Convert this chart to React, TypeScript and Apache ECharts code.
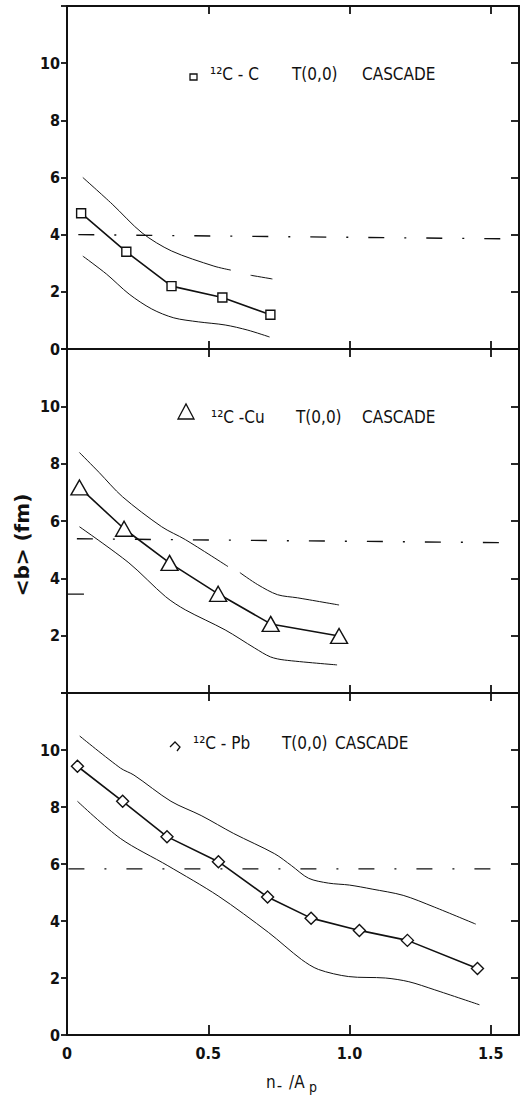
import React, { useEffect, useRef } from "react";
import * as echarts from "echarts";

// ---------- data ----------
// x tick labels (n-/Ap) and y range (<b> in fm)
const xTicks = [0, 0.5, 1.0, 1.5];
const yTicks = [0, 2, 4, 6, 8, 10];

// Panel 1: 12C-C
const ccPoints: [number, number][] = [
  [0.05, 4.75], [0.21, 3.4], [0.37, 2.2], [0.55, 1.8], [0.72, 1.2],
];
const ccUpper: [number, number | null][] = [
  [0.056, 6.0], [0.16, 5.07], [0.266, 4.06], [0.37, 3.43], [0.52, 2.9], [0.58, 2.76],
  [0.615, null], [0.65, 2.58], [0.727, 2.45],
];
const ccLower: [number, number][] = [
  [0.056, 3.25], [0.14, 2.62], [0.22, 1.92], [0.3, 1.4], [0.378, 1.09],
  [0.465, 0.95], [0.56, 0.84], [0.64, 0.66], [0.717, 0.42],
];
const ccRef: [number, number][] = [[0.04, 4.0], [1.6, 3.85]];

// Panel 2: 12C-Cu
const cuPoints: [number, number][] = [
  [0.044, 7.17], [0.202, 5.73], [0.363, 4.54], [0.535, 3.46], [0.721, 2.41], [0.963, 1.99],
];
const cuUpper: [number, number | null][] = [
  [0.044, 8.39], [0.114, 7.69], [0.196, 6.85], [0.335, 5.8], [0.419, 5.35], [0.57, 4.41],
  [0.59, null], [0.612, 4.2], [0.675, 3.78], [0.745, 3.43], [0.816, 3.32], [0.963, 3.07],
];
const cuLower: [number, number][] = [
  [0.044, 5.8], [0.219, 4.54], [0.349, 3.36], [0.419, 2.9], [0.56, 2.2],
  [0.664, 1.57], [0.72, 1.26], [0.77, 1.15], [0.956, 0.98],
];
const cuRef: [number, number][] = [[0.035, 5.38], [1.6, 5.24]];
const cuStray: [number, number][] = [[0.0, 3.45], [0.06, 3.45]];

// Panel 3: 12C-Pb
const pbPoints: [number, number][] = [
  [0.037, 9.43], [0.197, 8.2], [0.354, 6.96], [0.536, 6.08], [0.71, 4.84],
  [0.864, 4.1], [1.035, 3.67], [1.205, 3.32], [1.453, 2.33],
];
const pbUpper: [number, number][] = [
  [0.045, 10.49], [0.19, 9.36], [0.237, 9.12], [0.368, 8.2], [0.475, 7.7], [0.59, 7.07],
  [0.735, 6.36], [0.795, 5.94], [0.855, 5.5], [0.925, 5.33], [1.0, 5.26], [1.08, 5.12],
  [1.19, 4.9], [1.3, 4.49], [1.447, 3.89],
];
const pbLower: [number, number][] = [
  [0.037, 8.2], [0.19, 6.89], [0.357, 5.94], [0.535, 4.88], [0.713, 3.6], [0.83, 2.65],
  [0.89, 2.3], [0.997, 2.05], [1.127, 2.0], [1.21, 1.87], [1.3, 1.59], [1.46, 1.06],
];
const pbRef: [number, number][] = [[0.005, 5.83], [1.57, 5.83]];

const INK = "#111";
const FONT = "'DejaVu Sans Condensed', 'DejaVu Sans', sans-serif";

export default function App() {
  const ref = useRef<HTMLDivElement>(null);

  useEffect(() => {
    document.body.style.margin = "0";
    const chart = echarts.init(ref.current!, undefined, { renderer: "svg" });

    const grids = [
      { left: 67, right: 3, top: 6, height: 343 },
      { left: 67, right: 3, top: 349, height: 344 },
      { left: 67, right: 3, top: 693, height: 342 },
    ];

    const xAxes: any[] = [];
    const yAxes: any[] = [];
    grids.forEach((_, i) => {
      const base = {
        gridIndex: i,
        type: "value",
        min: 0,
        max: 1.6,
        interval: 0.5,
        splitLine: { show: false },
        axisLine: { show: true, onZero: false, lineStyle: { color: INK, width: 2 } },
      };
      xAxes.push({
        ...base,
        position: "bottom",
        axisTick: { show: true, inside: true, length: i === 2 ? 10 : 8, lineStyle: { color: INK, width: 1.8 } },
        axisLabel: {
          show: i === 2,
          margin: 10,
          color: INK,
          fontFamily: FONT,
          fontSize: 16,
          fontWeight: "bold",
          formatter: (v: number) => {
            const hit = xTicks.find((t) => Math.abs(t - v) < 1e-6);
            if (hit === undefined) return "";
            return hit === 0 ? "0" : hit.toFixed(1);
          },
        },
      });
      xAxes.push({
        ...base,
        position: "top",
        axisTick: { show: true, inside: true, length: 8, lineStyle: { color: INK, width: 1.8 } },
        axisLabel: { show: false },
      });
      const ybase = {
        gridIndex: i,
        type: "value",
        min: 0,
        max: 12,
        interval: 2,
        splitLine: { show: false },
        axisLine: { show: true, onZero: false, lineStyle: { color: INK, width: 2 } },
      };
      yAxes.push({
        ...ybase,
        position: "left",
        axisTick: { show: true, inside: false, length: 6, lineStyle: { color: INK, width: 1.8 } },
        axisLabel: {
          show: true,
          margin: 7,
          color: INK,
          fontFamily: FONT,
          fontSize: 16,
          fontWeight: "bold",
          formatter: (v: number) => {
            if (!yTicks.includes(v)) return "";
            if (i === 1 && v === 0) return "";
            return String(v);
          },
        },
      });
      yAxes.push({
        ...ybase,
        position: "right",
        axisTick: { show: true, inside: true, length: 8, lineStyle: { color: INK, width: 1.8 } },
        axisLabel: { show: false },
      });
    });

    const band = (i: number, data: any[]) => ({
      type: "line",
      xAxisIndex: 2 * i,
      yAxisIndex: 2 * i,
      data,
      smooth: 0.3,
      symbol: "none",
      connectNulls: false,
      lineStyle: { color: INK, width: 1 },
      silent: true,
      z: 2,
    });
    const refLine = (i: number, data: any[]) => ({
      type: "line",
      xAxisIndex: 2 * i,
      yAxisIndex: 2 * i,
      data,
      symbol: "none",
      lineStyle: { color: INK, width: 1.4, type: [16, 20, 2, 20] },
      silent: true,
      z: 1,
    });
    const main = (i: number, data: any[], symbol: string, size: any) => ({
      type: "line",
      xAxisIndex: 2 * i,
      yAxisIndex: 2 * i,
      data,
      symbol,
      symbolSize: size,
      showAllSymbol: true,
      lineStyle: { color: INK, width: 1.6 },
      itemStyle: { color: "#fff", borderColor: INK, borderWidth: 1.4 },
      silent: true,
      z: 3,
    });

    const series = [
      band(0, ccUpper), band(0, ccLower), refLine(0, ccRef), main(0, ccPoints, "rect", 9),
      band(1, cuUpper), band(1, cuLower), refLine(1, cuRef), main(1, cuPoints, "triangle", [17, 15]),
      { ...band(1, cuStray), smooth: false, lineStyle: { color: INK, width: 1.2 } },
      band(2, pbUpper), band(2, pbLower), refLine(2, pbRef), main(2, pbPoints, "diamond", 12),
    ];

    const txt = (x: number, y: number, text: string, size = 17, extra: any = {}) => ({
      type: "text",
      x,
      y,
      style: {
        text,
        fill: INK,
        font: `${extra.weight || "normal"} ${size}px ${FONT}`,
        verticalAlign: "middle",
        align: extra.align || "left",
      },
      rotation: extra.rotation || 0,
      z: 10,
    });

    const graphic = [
      // panel 1 label
      {
        type: "rect",
        shape: { x: 190, y: 74, width: 7, height: 6 },
        style: { fill: "#fff", stroke: INK, lineWidth: 1.3 },
      },
      txt(210, 74, "¹²C - C"),
      txt(292, 74, "T(0,0)"),
      txt(362, 74, "CASCADE"),
      // panel 2 label
      {
        type: "polygon",
        shape: { points: [[178, 419], [186, 404], [194, 419]] },
        style: { fill: "#fff", stroke: INK, lineWidth: 1.3 },
      },
      txt(211, 417, "¹²C -Cu"),
      txt(296, 417, "T(0,0)"),
      txt(362, 417, "CASCADE"),
      // panel 3 label
      {
        type: "polyline",
        shape: { points: [[170, 747], [175, 742], [180, 747], [177, 751]] },
        style: { stroke: INK, lineWidth: 1.3, fill: "none" },
      },
      txt(193, 743, "¹²C - Pb"),
      txt(282, 743, "T(0,0)"),
      txt(335, 743, "CASCADE"),
      // y axis name
      {
        type: "text",
        x: 22,
        y: 545,
        rotation: Math.PI / 2,
        style: {
          text: "<b> (fm)",
          fill: INK,
          font: `bold 20px 'DejaVu Sans', sans-serif`,
          align: "center",
          verticalAlign: "middle",
        },
      },
      // x axis name: n_ /Ap
      txt(266, 1082, "n", 17),
      txt(277, 1086, "–", 11, { weight: "bold" }),
      txt(289, 1082, "/A", 17),
      txt(309, 1087, "p", 14),
    ];

    chart.setOption({
      animation: false,
      backgroundColor: "#fff",
      grid: grids,
      xAxis: xAxes,
      yAxis: yAxes,
      series,
      graphic,
    });

    return () => chart.dispose();
  }, []);

  return <div ref={ref} style={{ width: 522, height: 1099 }} />;
}
